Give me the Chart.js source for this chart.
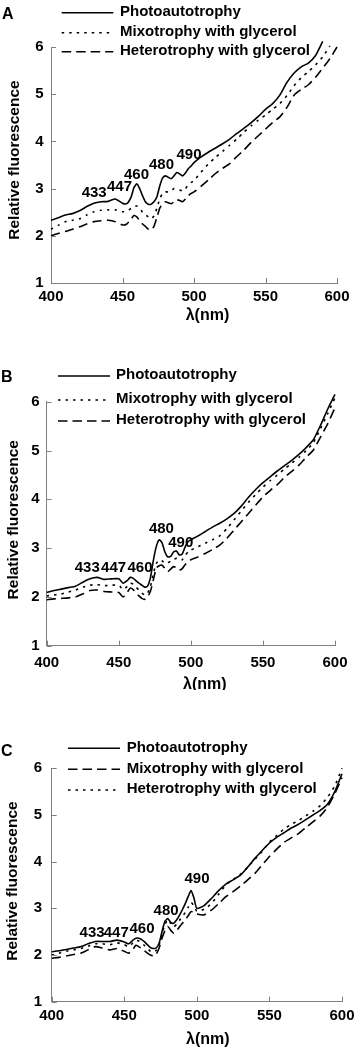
<!DOCTYPE html>
<html><head><meta charset="utf-8">
<script src="https://cdn.jsdelivr.net/npm/chart.js@4.4.0/dist/chart.umd.min.js"></script>
<style>
html,body{margin:0;padding:0;background:#fff;}
#wrap{position:relative;width:360px;height:1049px;overflow:hidden;background:#fff;}
.pn{position:absolute;left:0;width:360px;}
</style></head><body>
<div id="wrap">
<div class="pn" style="top:0;height:345px"><canvas id="cA" width="360" height="345"></canvas></div>
<div class="pn" style="top:345px;height:345px"><canvas id="cB" width="360" height="345"></canvas></div>
<div class="pn" style="top:690px;height:359px"><canvas id="cC" width="360" height="359"></canvas></div>
</div>
<script>
// ---------- data ----------
const xTickValues = [400, 450, 500, 550, 600];
const yTickValues = [1, 2, 3, 4, 5, 6];
const wavelengths = [400,405,410,415,420,425,430,435,440,445,450,453,456,
  458,460,462,464,466,468,470,472,474,476,478,480,482,484,486,488,490,492,494,496,498,
  500,505,510,515,520,525,530,535,540,545,550,555,560,565,570,575,580,585,590,595,600];

// Panel A
const aPhoto = [2.33,2.38,2.44,2.47,2.53,2.62,2.69,2.72,2.73,2.78,2.69,2.68,2.82,
  3.02,3.10,3.00,2.85,2.72,2.67,2.67,2.72,2.82,3.05,3.22,3.27,3.24,3.21,3.27,3.34,3.31,3.27,3.33,3.42,3.48,
  3.55,3.67,3.77,3.86,3.95,4.05,4.17,4.28,4.40,4.53,4.68,4.80,4.98,5.25,5.45,5.58,5.66,5.82,6.12,null,null];
const aMixo = [2.14,2.22,2.30,2.33,2.36,2.44,2.51,2.54,2.55,2.55,2.51,2.52,2.58,
  2.62,2.63,2.58,2.50,2.45,2.40,2.36,2.42,2.58,2.78,2.90,2.93,2.93,2.95,3.00,2.99,2.97,2.95,3.00,3.08,3.13,
  3.17,3.35,3.52,3.66,3.79,3.92,4.05,4.20,4.33,4.45,4.56,4.68,4.80,4.97,5.18,5.35,5.48,5.62,5.79,6.02,null];
const aHetero = [2.00,2.05,2.09,2.14,2.19,2.25,2.30,2.32,2.33,2.30,2.23,2.25,2.35,
  2.43,2.40,2.32,2.25,2.20,2.14,2.12,2.20,2.38,2.58,2.68,2.72,2.70,2.68,2.72,2.76,2.75,2.72,2.78,2.85,2.90,
  2.93,3.05,3.18,3.32,3.43,3.53,3.68,3.82,3.98,4.12,4.26,4.40,4.52,4.72,4.98,5.10,5.20,5.36,5.55,5.75,6.00];
const aPeakText = ['433','447','460','480','490'];
const aPeakNm = [430.2, 447.9, 459.8, 477.3, 496.5];
const aPeakVal = [2.90, 3.04, 3.29, 3.50, 3.71];

// Panel B
const bPhoto = [2.09,2.13,2.16,2.19,2.22,2.30,2.37,2.40,2.36,2.37,2.37,2.28,2.34,
  2.40,2.38,2.33,2.28,2.24,2.20,2.22,2.40,2.75,3.03,3.17,3.11,2.92,2.82,2.83,2.92,2.94,2.86,2.88,3.02,3.13,
  3.17,3.25,3.34,3.43,3.51,3.60,3.71,3.86,4.04,4.20,4.34,4.46,4.58,4.69,4.80,4.92,5.06,5.22,5.52,5.85,6.15];
const bMixo = [2.02,2.04,2.06,2.10,2.14,2.20,2.24,2.25,2.23,2.24,2.24,2.15,2.22,
  2.28,2.26,2.20,2.14,2.08,2.04,2.08,2.22,2.48,2.68,2.76,2.74,2.69,2.70,2.73,2.77,2.79,2.75,2.76,2.85,2.92,
  2.96,3.03,3.10,3.17,3.25,3.40,3.58,3.76,3.94,4.10,4.25,4.38,4.50,4.62,4.74,4.86,5.00,5.16,5.45,5.76,6.08];
const bHetero = [1.94,1.96,1.97,1.98,2.00,2.06,2.13,2.14,2.11,2.10,2.09,2.00,2.10,
  2.18,2.15,2.08,2.02,1.97,1.95,2.00,2.12,2.35,2.59,2.64,2.65,2.58,2.52,2.57,2.62,2.60,2.55,2.58,2.66,2.72,
  2.76,2.82,2.89,2.97,3.06,3.20,3.37,3.54,3.71,3.88,4.05,4.18,4.30,4.45,4.57,4.70,4.86,5.01,5.28,5.55,5.88];
const bPeakText = ['433','447','460','480','490'];
const bPeakNm = [428.1, 446.4, 464.7, 479.6, 493.0];
const bPeakVal = [2.59, 2.59, 2.59, 3.39, 3.11];

// Panel C
const cPhoto = [2.07,2.09,2.12,2.15,2.18,2.24,2.29,2.29,2.29,2.32,2.28,2.24,2.32,
  2.36,2.36,2.33,2.28,2.22,2.16,2.14,2.15,2.25,2.50,2.72,2.78,2.70,2.68,2.75,2.85,2.97,3.10,3.25,3.38,3.22,
  3.00,3.06,3.21,3.38,3.52,3.61,3.71,3.88,4.07,4.24,4.40,4.52,4.62,4.72,4.80,4.90,5.00,5.10,5.23,5.50,5.88];
const cMixo = [1.93,1.95,1.98,2.01,2.04,2.11,2.18,2.15,2.11,2.14,2.08,2.04,2.12,
  2.21,2.18,2.14,2.09,2.04,2.00,1.98,2.02,2.15,2.36,2.52,2.61,2.53,2.47,2.52,2.60,2.68,2.75,2.84,2.93,2.92,
  2.88,2.86,2.96,3.10,3.25,3.36,3.48,3.61,3.75,3.93,4.11,4.27,4.41,4.51,4.60,4.73,4.85,4.98,5.17,5.45,5.80];
const cHetero = [2.00,2.04,2.08,2.11,2.14,2.19,2.24,2.24,2.22,2.26,2.22,2.18,2.26,
  2.31,2.30,2.26,2.20,2.14,2.08,2.06,2.10,2.22,2.45,2.65,2.76,2.68,2.60,2.66,2.74,2.83,2.91,3.02,3.13,3.05,
  2.94,2.98,3.10,3.30,3.50,3.62,3.73,3.88,4.05,4.22,4.42,4.56,4.70,4.80,4.88,4.98,5.08,5.20,5.38,5.62,6.00];
const cPeakText = ['433','447','460','480','490'];
const cPeakNm = [427.8, 444.5, 462.2, 478.8, 500.1];
const cPeakVal = [2.48, 2.48, 2.56, 2.94, 3.64];

const labelPhoto = 'Photoautotrophy';
const labelMixo = 'Mixotrophy with glycerol';
const labelHetero = 'Heterotrophy with glycerol';
const xTitle = 'λ(nm)';
const yTitle = 'Relative fluorescence';

// ---------- styling ----------
const FONT = '"Liberation Sans", Arial, Helvetica, sans-serif';
Chart.defaults.font.family = FONT;
const AXIS = '#808080';
const SOLID = [];
const DOTTED = [2.5, 5];
const DASHED = [9.5, 5];

const overlay = {
  id: 'overlay',
  afterDatasetsDraw(chart) {
    const o = chart.options.plugins.overlay;
    const {ctx, chartArea: ca, scales: {x, y}} = chart;
    ctx.save();
    // inward tick marks
    ctx.strokeStyle = AXIS; ctx.lineWidth = 1; ctx.setLineDash([]);
    ctx.beginPath();
    x.ticks.forEach(t => {
      const px = Math.round(x.getPixelForValue(t.value)) + 0.5;
      ctx.moveTo(px, ca.bottom); ctx.lineTo(px, ca.bottom - 5);
    });
    y.ticks.forEach(t => {
      const py = Math.round(y.getPixelForValue(t.value)) + 0.5;
      ctx.moveTo(ca.left, py); ctx.lineTo(ca.left + 5, py);
    });
    ctx.stroke();
    ctx.fillStyle = '#000';
    // peak labels
    ctx.font = 'bold 15px ' + FONT;
    ctx.textAlign = 'center'; ctx.textBaseline = 'middle';
    o.peakText.forEach((t, i) => ctx.fillText(t, x.getPixelForValue(o.peakNm[i]), y.getPixelForValue(o.peakVal[i])));
    // legend
    const L = o.legend;
    chart.data.datasets.forEach((ds, i) => {
      const yy = L.ys[i];
      ctx.beginPath();
      ctx.strokeStyle = '#000';
      ctx.lineWidth = ds.borderWidth;
      ctx.setLineDash(ds.borderDash || []);
      ctx.moveTo(L.x0, yy); ctx.lineTo(L.x1, yy); ctx.stroke();
      ctx.setLineDash([]);
      ctx.textAlign = 'left'; ctx.textBaseline = 'alphabetic';
      ctx.font = 'bold 15px ' + FONT;
      ctx.fillText(ds.label, L.tx, yy + 3.3);
    });
    // panel letter
    ctx.font = 'bold 16px ' + FONT;
    ctx.textAlign = 'center'; ctx.textBaseline = 'middle';
    ctx.fillText(o.letter[0], o.letter[1], o.letter[2]);
    // axis titles
    ctx.font = 'bold 16px ' + FONT;
    ctx.fillText(xTitle, (ca.left + ca.right) / 2 + o.xt[0], ca.bottom + o.xt[1]);
    ctx.font = 'bold 15.5px ' + FONT;
    ctx.translate(o.yt[0], (ca.top + ca.bottom) / 2 + o.yt[1]);
    ctx.rotate(-Math.PI / 2);
    ctx.fillText(yTitle, 0, 0);
    ctx.restore();
  }
};

function makeChart(id, p) {
  const mk = (label, vals, dash) => ({
    label, data: wavelengths.map((w, i) => ({x: w, y: vals[i]})),
    borderColor: '#000', borderWidth: 1.6, borderDash: dash, borderCapStyle: 'butt',
    pointRadius: 0, tension: 0.2, fill: false, clip: false
  });
  return new Chart(document.getElementById(id), {
    type: 'line',
    data: {datasets: p.series.map(s => mk(s[0], s[1], s[2]))},
    options: {
      responsive: false, animation: false, events: [],
      layout: {padding: p.pad},
      plugins: {
        legend: {display: false}, tooltip: {enabled: false},
        overlay: {peakText: p.peakText, peakNm: p.peakNm, peakVal: p.peakVal,
          legend: p.legend, letter: p.letter, xt: p.xt, yt: p.yt}
      },
      scales: {
        x: {
          type: 'linear', min: 400, max: 600,
          afterBuildTicks: s => { s.ticks = xTickValues.map(v => ({value: v})); },
          afterFit: s => { s.height = p.xH; },
          grid: {display: false, drawTicks: false},
          border: {display: true, color: AXIS, width: 1},
          ticks: {padding: p.xPad, color: '#000', font: {size: 15, weight: 'bold'}, maxRotation: 0, autoSkip: false}
        },
        y: {
          type: 'linear', min: 1, max: 6,
          afterBuildTicks: s => { s.ticks = yTickValues.map(v => ({value: v})); },
          afterFit: s => { s.width = p.yW; },
          grid: {display: false, drawTicks: false},
          border: {display: true, color: AXIS, width: 1},
          ticks: {padding: p.yPad, color: '#000', font: {size: 15, weight: 'bold'}}
        }
      }
    },
    plugins: [overlay]
  });
}

makeChart('cA', {
  series: [[labelPhoto, aPhoto, SOLID], [labelMixo, aMixo, DOTTED], [labelHetero, aHetero, DASHED]],
  peakText: aPeakText, peakNm: aPeakNm, peakVal: aPeakVal,
  pad: {top: 47, right: 23, bottom: 7, left: 0}, yW: 51, xH: 55, xPad: 4.7, yPad: 7.5,
  legend: {x0: 61.7, x1: 113.3, tx: 120, ys: [12.7, 32.7, 51.7]},
  letter: ['A', 7.7, 15], xt: [13.5, 32.8], yt: [15, -5]
});
makeChart('cB', {
  series: [[labelPhoto, bPhoto, SOLID], [labelMixo, bMixo, DOTTED], [labelHetero, bHetero, DASHED]],
  peakText: bPeakText, peakNm: bPeakNm, peakVal: bPeakVal,
  pad: {top: 56.7, right: 25, bottom: 4.3, left: 0}, yW: 46.7, xH: 40, xPad: 7.8, yPad: 7,
  legend: {x0: 58, x1: 110, tx: 116, ys: [31, 55, 76]},
  letter: ['B', 6.7, 32.5], xt: [14, 39.3], yt: [14, -4]
});
makeChart('cC', {
  series: [[labelPhoto, cPhoto, SOLID], [labelMixo, cMixo, DASHED], [labelHetero, cHetero, DOTTED]],
  peakText: cPeakText, peakNm: cPeakNm, peakVal: cPeakVal,
  pad: {top: 78.3, right: 18, bottom: 7.3, left: 0}, yW: 51.7, xH: 40, xPad: 5, yPad: 9.5,
  legend: {x0: 68, x1: 120, tx: 126.7, ys: [58.3, 79.3, 100]},
  letter: ['C', 6.7, 61.7], xt: [11, 38], yt: [13, -4]
});
</script>
</body></html>
